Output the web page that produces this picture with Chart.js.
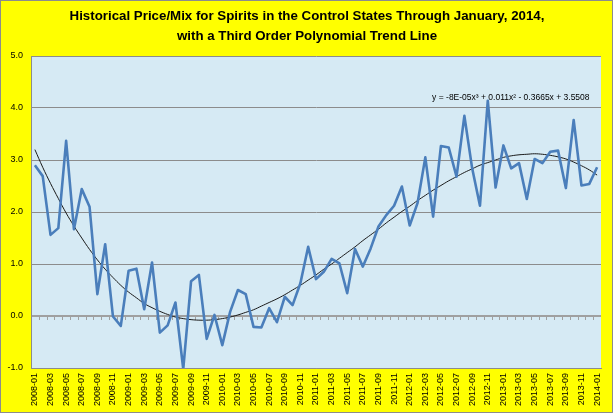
<!DOCTYPE html>
<html>
<head>
<meta charset="utf-8">
<script src="https://cdn.jsdelivr.net/npm/chart.js@4.4.1/dist/chart.umd.min.js"></script>
<style>
  html, body { margin: 0; padding: 0; background: #ffffff; }
  #wrap { width: 613px; height: 413px; }
</style>
</head>
<body>
<div id="wrap"><canvas id="c" width="613" height="413"></canvas></div>
<script>
const months = [
  "2008-01","2008-02","2008-03","2008-04","2008-05","2008-06","2008-07","2008-08","2008-09","2008-10","2008-11","2008-12",
  "2009-01","2009-02","2009-03","2009-04","2009-05","2009-06","2009-07","2009-08","2009-09","2009-10","2009-11","2009-12",
  "2010-01","2010-02","2010-03","2010-04","2010-05","2010-06","2010-07","2010-08","2010-09","2010-10","2010-11","2010-12",
  "2011-01","2011-02","2011-03","2011-04","2011-05","2011-06","2011-07","2011-08","2011-09","2011-10","2011-11","2011-12",
  "2012-01","2012-02","2012-03","2012-04","2012-05","2012-06","2012-07","2012-08","2012-09","2012-10","2012-11","2012-12",
  "2013-01","2013-02","2013-03","2013-04","2013-05","2013-06","2013-07","2013-08","2013-09","2013-10","2013-11","2013-12",
  "2014-01"
];

const priceMix = [
  2.90, 2.69, 1.56, 1.69, 3.37, 1.67, 2.44, 2.10, 0.42, 1.38, -0.01, -0.19,
  0.87, 0.91, 0.13, 1.03, -0.32, -0.18, 0.26, -1.02, 0.67, 0.79, -0.44, 0.02,
  -0.56, 0.08, 0.50, 0.42, -0.21, -0.22, 0.15, -0.12, 0.37, 0.21, 0.63, 1.33,
  0.71, 0.85, 1.10, 1.01, 0.44, 1.29, 0.95, 1.30, 1.72, 1.94, 2.12, 2.49,
  1.74, 2.17, 3.05, 1.91, 3.27, 3.24, 2.68, 3.85, 2.84, 2.12, 4.14, 2.47,
  3.28, 2.84, 2.94, 2.25, 3.02, 2.94, 3.16, 3.18, 2.46, 3.77, 2.51, 2.54,
  2.86
];

const trendLine = [
  3.20, 2.86, 2.55, 2.26, 1.98, 1.73, 1.50, 1.28, 1.08, 0.90, 0.74, 0.59,
  0.46, 0.35, 0.24, 0.16, 0.09, 0.03, -0.02, -0.05, -0.07, -0.08, -0.08, -0.07,
  -0.05, -0.02, 0.02, 0.07, 0.12, 0.19, 0.26, 0.33, 0.41, 0.50, 0.59, 0.69,
  0.79, 0.90, 1.00, 1.11, 1.22, 1.33, 1.45, 1.56, 1.67, 1.79, 1.90, 2.01,
  2.11, 2.22, 2.32, 2.42, 2.51, 2.60, 2.68, 2.76, 2.83, 2.90, 2.95, 3.00,
  3.05, 3.08, 3.10, 3.11, 3.12, 3.11, 3.09, 3.06, 3.02, 2.96, 2.89, 2.81,
  2.71
];

const titleLines = [
  "Historical Price/Mix for Spirits in the Control States Through January, 2014,",
  "with a Third Order Polynomial Trend Line"
];
const equationText = "y = -8E-05x\u00B3 + 0.011x\u00B2 - 0.3665x + 3.5508";

const TITLE_FONT = "bold 13.3px 'Liberation Sans', Arial, sans-serif";
const SMALL_FONT = "'Liberation Sans', Arial, sans-serif";

const decorPlugin = {
  id: 'decor',
  beforeDraw(chart) {
    const ctx = chart.ctx;
    const W = chart.width, H = chart.height;
    ctx.save();
    ctx.fillStyle = '#FFFF00';
    ctx.fillRect(0, 0, W, H);
    ctx.strokeStyle = '#8C8C8C';
    ctx.lineWidth = 1;
    ctx.strokeRect(0.5, 0.5, W - 1, H - 1);
    const a = chart.chartArea;
    ctx.fillStyle = '#D6EAF4';
    ctx.fillRect(a.left, a.top, a.right - a.left, a.bottom - a.top);
    ctx.fillStyle = '#000000';
    ctx.font = TITLE_FONT;
    ctx.textAlign = 'center';
    ctx.textBaseline = 'middle';
    ctx.fillText(titleLines[0], 307, 16);
    ctx.fillText(titleLines[1], 307, 36);
    ctx.restore();
  },
  beforeDatasetsDraw(chart) {
    const ctx = chart.ctx;
    const a = chart.chartArea;
    const y0 = Math.round(chart.scales.y.getPixelForValue(0));
    const n = months.length;
    const step = (a.right - a.left) / n;
    ctx.save();
    ctx.strokeStyle = '#A0A0A0';
    ctx.lineWidth = 1;
    ctx.beginPath();
    for (let i = 1; i < n; i++) {
      const x = Math.round(a.left + i * step) + 0.5;
      ctx.moveTo(x, y0);
      ctx.lineTo(x, y0 + 4);
    }
    ctx.stroke();
    ctx.restore();
  },
  afterDatasetsDraw(chart) {
    const ctx = chart.ctx;
    const xs = chart.scales.x, ys = chart.scales.y;
    ctx.save();
    ctx.fillStyle = '#000000';
    ctx.font = "8.5px " + SMALL_FONT;
    ctx.textAlign = 'left';
    ctx.textBaseline = 'middle';
    ctx.fillText(equationText, xs.getPixelForValue(51) - 1, ys.getPixelForValue(4.19));
    ctx.restore();
  }
};

new Chart(document.getElementById('c'), {
  type: 'line',
  data: {
    labels: months,
    datasets: [
      {
        label: 'Price/Mix',
        data: priceMix,
        borderColor: '#4A7EBB',
        borderWidth: 2.6,
        pointRadius: 0,
        tension: 0,
        borderJoinStyle: 'round'
      },
      {
        label: 'Trend',
        data: trendLine,
        borderColor: '#1a1a1a',
        borderWidth: 1,
        pointRadius: 0,
        tension: 0.4
      }
    ]
  },
  options: {
    responsive: false,
    animation: false,
    devicePixelRatio: 1,
    layout: { padding: { left: 0, top: 56, right: 12, bottom: 0 } },
    plugins: {
      legend: { display: false },
      tooltip: { enabled: false },
      title: { display: false }
    },
    scales: {
      x: {
        type: 'category',
        offset: true,
        grid: { display: false, drawTicks: false },
        border: { display: true, color: '#8C8C8C', width: 1 },
        ticks: {
          autoSkip: false,
          maxRotation: 90,
          minRotation: 90,
          padding: 5,
          color: '#000000',
          font: { size: 9, family: SMALL_FONT },
          callback: function (v, i) { return i % 2 === 0 ? months[i] : ''; }
        },
        afterFit: function (s) { s.height = 45; }
      },
      y: {
        min: -1,
        max: 5,
        ticks: {
          stepSize: 1,
          padding: 8,
          color: '#000000',
          font: { size: 9, family: SMALL_FONT },
          callback: function (v) { return Number(v).toFixed(1); }
        },
        grid: {
          drawTicks: false,
          color: function (c) { return c.tick && c.tick.value === 0 ? '#A0A0A0' : '#8C8C8C'; },
          lineWidth: function (c) { return c.tick && c.tick.value === 0 ? 2 : 1; }
        },
        border: { display: true, color: '#8C8C8C', width: 1 },
        afterFit: function (s) { s.width = 31; }
      }
    }
  },
  plugins: [decorPlugin]
});
</script>
</body>
</html>
